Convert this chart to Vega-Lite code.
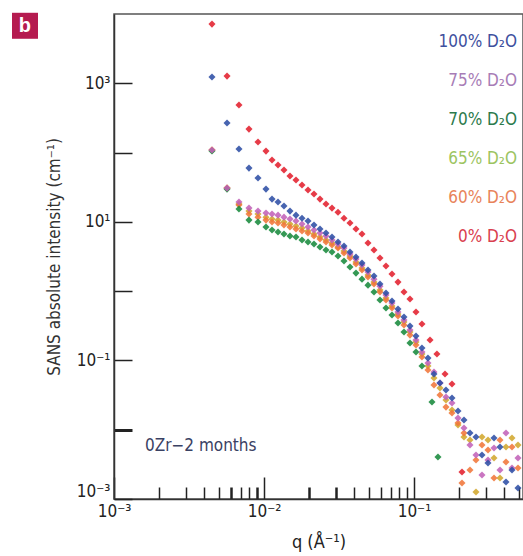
{
  "$schema": "https://vega.github.io/schema/vega-lite/v6.json",
  "autosize": "none",
  "width": 409,
  "height": 485,
  "padding": {"left": 114, "top": 14, "right": 0, "bottom": 57},
  "background": "white",
  "config": {
    "font": "Liberation Sans Narrow, Arial Narrow, DejaVu Sans Condensed, sans-serif",
    "view": {"stroke": "#555", "strokeWidth": 1.5}
  },
  "resolve": {"axis": {"x": "independent"}},
  "datasets": {
    "sans": [
      {"s":"65% D₂O","q":0.0045,"I":108.7},{"s":"65% D₂O","q":0.00567,"I":30.7},{"s":"65% D₂O","q":0.00681,"I":18.1},{"s":"65% D₂O","q":0.00794,"I":14.3},{"s":"65% D₂O","q":0.00912,"I":13.0},{"s":"65% D₂O","q":0.01031,"I":11.7},{"s":"65% D₂O","q":0.01131,"I":10.97},{"s":"65% D₂O","q":0.0124,"I":10.6},{"s":"65% D₂O","q":0.01359,"I":9.93},{"s":"65% D₂O","q":0.0149,"I":9.29},{"s":"65% D₂O","q":0.01634,"I":8.7},{"s":"65% D₂O","q":0.01792,"I":8.14},{"s":"65% D₂O","q":0.01965,"I":7.37},{"s":"65% D₂O","q":0.02154,"I":6.67},{"s":"65% D₂O","q":0.02362,"I":6.03},{"s":"65% D₂O","q":0.0259,"I":5.46},{"s":"65% D₂O","q":0.0284,"I":4.94},{"s":"65% D₂O","q":0.03114,"I":4.33},{"s":"65% D₂O","q":0.03415,"I":3.79},{"s":"65% D₂O","q":0.03744,"I":3.21},{"s":"65% D₂O","q":0.04105,"I":2.63},{"s":"65% D₂O","q":0.04501,"I":2.15},{"s":"65% D₂O","q":0.04935,"I":1.71},{"s":"65% D₂O","q":0.05411,"I":1.35},{"s":"65% D₂O","q":0.05933,"I":1.04},{"s":"65% D₂O","q":0.06505,"I":0.795},{"s":"65% D₂O","q":0.07133,"I":0.609},{"s":"65% D₂O","q":0.07821,"I":0.467},{"s":"65% D₂O","q":0.08576,"I":0.358},{"s":"65% D₂O","q":0.09403,"I":0.257},{"s":"65% D₂O","q":0.1031,"I":0.184},{"s":"65% D₂O","q":0.113,"I":0.124},{"s":"65% D₂O","q":0.1239,"I":0.083},{"s":"65% D₂O","q":0.1359,"I":0.0557},{"s":"65% D₂O","q":0.149,"I":0.04},{"s":"65% D₂O","q":0.1634,"I":0.0268},{"s":"65% D₂O","q":0.1792,"I":0.0192},{"s":"65% D₂O","q":0.1965,"I":0.0117},{"s":"65% D₂O","q":0.2154,"I":0.00784},{"s":"65% D₂O","q":0.2362,"I":0.0071},{"s":"65% D₂O","q":0.259,"I":0.00126},{"s":"65% D₂O","q":0.284,"I":0.00784},{"s":"65% D₂O","q":0.3114,"I":0.0071},{"s":"65% D₂O","q":0.3415,"I":0.0039},{"s":"65% D₂O","q":0.3744,"I":0.00201},{"s":"65% D₂O","q":0.4105,"I":0.00562},{"s":"65% D₂O","q":0.4501,"I":0.00759},{"s":"65% D₂O","q":0.4935,"I":0.00601},

      {"s":"60% D₂O","q":0.0045,"I":108.7},{"s":"60% D₂O","q":0.00567,"I":30.7},{"s":"60% D₂O","q":0.00681,"I":17.5},{"s":"60% D₂O","q":0.00794,"I":13.0},{"s":"60% D₂O","q":0.00912,"I":11.7},{"s":"60% D₂O","q":0.01031,"I":10.6},{"s":"60% D₂O","q":0.01131,"I":9.93},{"s":"60% D₂O","q":0.0124,"I":9.61},{"s":"60% D₂O","q":0.01359,"I":8.99},{"s":"60% D₂O","q":0.0149,"I":8.41},{"s":"60% D₂O","q":0.01634,"I":7.87},{"s":"60% D₂O","q":0.01792,"I":7.37},{"s":"60% D₂O","q":0.01965,"I":6.9},{"s":"60% D₂O","q":0.02154,"I":6.24},{"s":"60% D₂O","q":0.02362,"I":5.65},{"s":"60% D₂O","q":0.0259,"I":5.11},{"s":"60% D₂O","q":0.0284,"I":4.63},{"s":"60% D₂O","q":0.03114,"I":4.19},{"s":"60% D₂O","q":0.03415,"I":3.55},{"s":"60% D₂O","q":0.03744,"I":3.0},{"s":"60% D₂O","q":0.04105,"I":2.46},{"s":"60% D₂O","q":0.04501,"I":2.02},{"s":"60% D₂O","q":0.04935,"I":1.6},{"s":"60% D₂O","q":0.05411,"I":1.27},{"s":"60% D₂O","q":0.05933,"I":0.97},{"s":"60% D₂O","q":0.06505,"I":0.744},{"s":"60% D₂O","q":0.07133,"I":0.57},{"s":"60% D₂O","q":0.07821,"I":0.437},{"s":"60% D₂O","q":0.08576,"I":0.324},{"s":"60% D₂O","q":0.09403,"I":0.232},{"s":"60% D₂O","q":0.1031,"I":0.167},{"s":"60% D₂O","q":0.113,"I":0.112},{"s":"60% D₂O","q":0.1239,"I":0.0727},{"s":"60% D₂O","q":0.1359,"I":0.0441},{"s":"60% D₂O","q":0.149,"I":0.0317},{"s":"60% D₂O","q":0.1634,"I":0.0212},{"s":"60% D₂O","q":0.1792,"I":0.0174},{"s":"60% D₂O","q":0.1965,"I":0.0125},{"s":"60% D₂O","q":0.2089,"I":0.0017},{"s":"60% D₂O","q":0.2154,"I":0.00895},{"s":"60% D₂O","q":0.2362,"I":0.00262},{"s":"60% D₂O","q":0.259,"I":0.00365},{"s":"60% D₂O","q":0.284,"I":0.00601},{"s":"60% D₂O","q":0.3114,"I":0.00509},{"s":"60% D₂O","q":0.3415,"I":0.00201},{"s":"60% D₂O","q":0.3744,"I":0.0071},{"s":"60% D₂O","q":0.4105,"I":0.00342},{"s":"60% D₂O","q":0.4501,"I":0.00562},{"s":"60% D₂O","q":0.4935,"I":0.0028},

      {"s":"70% D₂O","q":0.0045,"I":105.1},{"s":"70% D₂O","q":0.00567,"I":29.7},{"s":"70% D₂O","q":0.00681,"I":15.3},{"s":"70% D₂O","q":0.00794,"I":10.6},{"s":"70% D₂O","q":0.00912,"I":9.93},{"s":"70% D₂O","q":0.01031,"I":8.41},{"s":"70% D₂O","q":0.01131,"I":7.62},{"s":"70% D₂O","q":0.0124,"I":7.13},{"s":"70% D₂O","q":0.01359,"I":6.67},{"s":"70% D₂O","q":0.0149,"I":6.24},{"s":"70% D₂O","q":0.01634,"I":6.03},{"s":"70% D₂O","q":0.01792,"I":5.46},{"s":"70% D₂O","q":0.01965,"I":5.11},{"s":"70% D₂O","q":0.02154,"I":4.78},{"s":"70% D₂O","q":0.02362,"I":4.33},{"s":"70% D₂O","q":0.0259,"I":3.92},{"s":"70% D₂O","q":0.0284,"I":3.67},{"s":"70% D₂O","q":0.03114,"I":3.21},{"s":"70% D₂O","q":0.03415,"I":2.72},{"s":"70% D₂O","q":0.03744,"I":2.23},{"s":"70% D₂O","q":0.04105,"I":1.82},{"s":"70% D₂O","q":0.04501,"I":1.49},{"s":"70% D₂O","q":0.04935,"I":1.22},{"s":"70% D₂O","q":0.05411,"I":0.97},{"s":"70% D₂O","q":0.05933,"I":0.744},{"s":"70% D₂O","q":0.06505,"I":0.57},{"s":"70% D₂O","q":0.07133,"I":0.452},{"s":"70% D₂O","q":0.07821,"I":0.346},{"s":"70% D₂O","q":0.08576,"I":0.257},{"s":"70% D₂O","q":0.09403,"I":0.178},{"s":"70% D₂O","q":0.1031,"I":0.132},{"s":"70% D₂O","q":0.113,"I":0.083},{"s":"70% D₂O","q":0.1318,"I":0.0251},{"s":"70% D₂O","q":0.1445,"I":0.00403},

      {"s":"75% D₂O","q":0.0045,"I":108.7},{"s":"75% D₂O","q":0.00567,"I":30.7},{"s":"75% D₂O","q":0.00681,"I":19.3},{"s":"75% D₂O","q":0.00794,"I":15.8},{"s":"75% D₂O","q":0.00912,"I":14.3},{"s":"75% D₂O","q":0.01031,"I":13.4},{"s":"75% D₂O","q":0.01131,"I":13.0},{"s":"75% D₂O","q":0.0124,"I":12.5},{"s":"75% D₂O","q":0.01359,"I":11.7},{"s":"75% D₂O","q":0.0149,"I":10.97},{"s":"75% D₂O","q":0.01634,"I":10.3},{"s":"75% D₂O","q":0.01792,"I":9.29},{"s":"75% D₂O","q":0.01965,"I":8.41},{"s":"75% D₂O","q":0.02154,"I":7.62},{"s":"75% D₂O","q":0.02362,"I":6.9},{"s":"75% D₂O","q":0.0259,"I":6.24},{"s":"75% D₂O","q":0.0284,"I":5.46},{"s":"75% D₂O","q":0.03114,"I":4.78},{"s":"75% D₂O","q":0.03415,"I":4.19},{"s":"75% D₂O","q":0.03744,"I":3.43},{"s":"75% D₂O","q":0.04105,"I":2.9},{"s":"75% D₂O","q":0.04501,"I":2.38},{"s":"75% D₂O","q":0.04935,"I":1.89},{"s":"75% D₂O","q":0.05411,"I":1.49},{"s":"75% D₂O","q":0.05933,"I":1.18},{"s":"75% D₂O","q":0.06505,"I":0.878},{"s":"75% D₂O","q":0.07133,"I":0.673},{"s":"75% D₂O","q":0.07821,"I":0.499},{"s":"75% D₂O","q":0.08576,"I":0.383},{"s":"75% D₂O","q":0.09403,"I":0.274},{"s":"75% D₂O","q":0.1031,"I":0.197},{"s":"75% D₂O","q":0.113,"I":0.132},{"s":"75% D₂O","q":0.1239,"I":0.0917},{"s":"75% D₂O","q":0.1359,"I":0.068},{"s":"75% D₂O","q":0.149,"I":0.0472},{"s":"75% D₂O","q":0.1634,"I":0.0296},{"s":"75% D₂O","q":0.1792,"I":0.0243},{"s":"75% D₂O","q":0.1965,"I":0.0147},{"s":"75% D₂O","q":0.2154,"I":0.0106},{"s":"75% D₂O","q":0.2362,"I":0.00601},{"s":"75% D₂O","q":0.259,"I":0.00431},{"s":"75% D₂O","q":0.284,"I":0.00222},{"s":"75% D₂O","q":0.3114,"I":0.00365},{"s":"75% D₂O","q":0.3415,"I":0.00544},{"s":"75% D₂O","q":0.3744,"I":0.00262},{"s":"75% D₂O","q":0.4105,"I":0.00895},{"s":"75% D₂O","q":0.4501,"I":0.0028},{"s":"75% D₂O","q":0.4935,"I":0.0039},

      {"s":"100% D₂O","q":0.0045,"I":1229},{"s":"100% D₂O","q":0.00567,"I":266.6},{"s":"100% D₂O","q":0.00681,"I":112.3},{"s":"100% D₂O","q":0.00794,"I":59.7},{"s":"100% D₂O","q":0.00912,"I":42.9},{"s":"100% D₂O","q":0.01031,"I":29.7},{"s":"100% D₂O","q":0.01131,"I":21.3},{"s":"100% D₂O","q":0.0124,"I":19.3},{"s":"100% D₂O","q":0.01359,"I":16.9},{"s":"100% D₂O","q":0.0149,"I":14.3},{"s":"100% D₂O","q":0.01634,"I":12.5},{"s":"100% D₂O","q":0.01792,"I":11.3},{"s":"100% D₂O","q":0.01965,"I":10.3},{"s":"100% D₂O","q":0.02154,"I":8.99},{"s":"100% D₂O","q":0.02362,"I":7.87},{"s":"100% D₂O","q":0.0259,"I":6.9},{"s":"100% D₂O","q":0.0284,"I":6.03},{"s":"100% D₂O","q":0.03114,"I":5.11},{"s":"100% D₂O","q":0.03415,"I":4.47},{"s":"100% D₂O","q":0.03744,"I":3.67},{"s":"100% D₂O","q":0.04105,"I":3.1},{"s":"100% D₂O","q":0.04501,"I":2.54},{"s":"100% D₂O","q":0.04935,"I":2.02},{"s":"100% D₂O","q":0.05411,"I":1.65},{"s":"100% D₂O","q":0.05933,"I":1.27},{"s":"100% D₂O","q":0.06505,"I":0.938},{"s":"100% D₂O","q":0.07133,"I":0.719},{"s":"100% D₂O","q":0.07821,"I":0.551},{"s":"100% D₂O","q":0.08576,"I":0.423},{"s":"100% D₂O","q":0.09403,"I":0.313},{"s":"100% D₂O","q":0.1031,"I":0.225},{"s":"100% D₂O","q":0.113,"I":0.151},{"s":"100% D₂O","q":0.1239,"I":0.108},{"s":"100% D₂O","q":0.1359,"I":0.0636},{"s":"100% D₂O","q":0.149,"I":0.0472},{"s":"100% D₂O","q":0.1634,"I":0.0374},{"s":"100% D₂O","q":0.1792,"I":0.0287},{"s":"100% D₂O","q":0.1965,"I":0.0186},{"s":"100% D₂O","q":0.2154,"I":0.0138},{"s":"100% D₂O","q":0.2362,"I":0.00895},{"s":"100% D₂O","q":0.259,"I":0.00784},{"s":"100% D₂O","q":0.284,"I":0.00431},{"s":"100% D₂O","q":0.3114,"I":0.0033},{"s":"100% D₂O","q":0.3415,"I":0.00759},{"s":"100% D₂O","q":0.3744,"I":0.00562},{"s":"100% D₂O","q":0.4105,"I":0.00176},{"s":"100% D₂O","q":0.4501,"I":0.00262},{"s":"100% D₂O","q":0.4935,"I":0.00144},

      {"s":"0% D₂O","q":0.0045,"I":7150},{"s":"0% D₂O","q":0.00567,"I":1270},{"s":"0% D₂O","q":0.00681,"I":485},{"s":"0% D₂O","q":0.00794,"I":218},{"s":"0% D₂O","q":0.00912,"I":142},{"s":"0% D₂O","q":0.01031,"I":105},{"s":"0% D₂O","q":0.01131,"I":77.9},{"s":"0% D₂O","q":0.0124,"I":66.0},{"s":"0% D₂O","q":0.01359,"I":55.9},{"s":"0% D₂O","q":0.0149,"I":45.8},{"s":"0% D₂O","q":0.01634,"I":40.1},{"s":"0% D₂O","q":0.01792,"I":34.0},{"s":"0% D₂O","q":0.01965,"I":28.8},{"s":"0% D₂O","q":0.02154,"I":25.2},{"s":"0% D₂O","q":0.02362,"I":21.3},{"s":"0% D₂O","q":0.0259,"I":18.1},{"s":"0% D₂O","q":0.0284,"I":15.8},{"s":"0% D₂O","q":0.03114,"I":13.8},{"s":"0% D₂O","q":0.03415,"I":11.3},{"s":"0% D₂O","q":0.03744,"I":9.61},{"s":"0% D₂O","q":0.04105,"I":7.87},{"s":"0% D₂O","q":0.04501,"I":6.67},{"s":"0% D₂O","q":0.04935,"I":4.94},{"s":"0% D₂O","q":0.05411,"I":3.92},{"s":"0% D₂O","q":0.05933,"I":3.0},{"s":"0% D₂O","q":0.06505,"I":2.3},{"s":"0% D₂O","q":0.07133,"I":1.77},{"s":"0% D₂O","q":0.07821,"I":1.35},{"s":"0% D₂O","q":0.08576,"I":0.97},{"s":"0% D₂O","q":0.09403,"I":0.769},{"s":"0% D₂O","q":0.1031,"I":0.499},{"s":"0% D₂O","q":0.113,"I":0.335},{"s":"0% D₂O","q":0.1279,"I":0.197},{"s":"0% D₂O","q":0.1422,"I":0.124},{"s":"0% D₂O","q":0.161,"I":0.0636},{"s":"0% D₂O","q":0.1792,"I":0.0456},{"s":"0% D₂O","q":0.2089,"I":0.00245}
    ]
  },
  "layer": [
    {
      "data": {"name": "sans"},
      "mark": {"type": "point", "shape": "diamond", "filled": true, "size": 50, "opacity": 0.88},
      "encoding": {
        "x": {
          "field": "q", "type": "quantitative",
          "scale": {"type": "log", "domain": [0.001, 0.533], "nice": false},
          "axis": {
            "orient": "bottom",
            "title": null, "labels": false, "domain": false, "grid": false,
            "values": [0.002,0.003,0.004,0.005,0.006,0.007,0.008,0.009,0.02,0.03,0.04,0.05,0.06,0.07,0.08,0.09,0.2,0.3,0.4,0.5],
            "tickSize": -12,
            "tickColor": "#222",
            "tickWidth": {"condition": {"test": "datum.value == 0.006 || datum.value == 0.009 || datum.value == 0.02 || datum.value == 0.03", "value": 2.5}, "value": 1.5}
          }
        },
        "y": {
          "field": "I", "type": "quantitative",
          "scale": {"type": "log", "domain": [0.001, 10000], "nice": false},
          "axis": {
            "title": "SANS absolute intensity (cm⁻¹)",
            "values": [0.001,0.01,0.1,1,10,100,1000],
            "labelExpr": "datum.value == 1000 ? '10³' : datum.value == 10 ? '10¹' : datum.value == 0.1 ? '10⁻¹' : datum.value == 0.001 ? '10⁻³' : ''",
            "labelOffset": {"condition": {"test": "datum.value == 0.001", "value": -8}, "value": 0},
            "tickSize": -18,
            "tickColor": "#222",
            "tickWidth": {"condition": {"test": "datum.value == 0.01", "value": 3}, "value": 1.5},
            "domainColor": "#333", "domainWidth": 1.5,
            "labelFontSize": 17, "labelColor": "#222", "labelPadding": 22,
            "labelOverlap": false, "labelFlush": false,
            "titleFontSize": 17, "titleFontWeight": "normal", "titleColor": "#333", "titlePadding": 13,
            "grid": false
          }
        },
        "color": {
          "field": "s", "type": "nominal",
          "scale": {
            "domain": ["100% D₂O", "75% D₂O", "70% D₂O", "65% D₂O", "60% D₂O", "0% D₂O"],
            "range": ["#2d4ea5", "#c262b8", "#188a3c", "#d2a72e", "#f0763a", "#e2202e"]
          },
          "legend": {
            "orient": "none", "legendX": 332, "legendY": 19,
            "title": null, "padding": 0,
            "symbolSize": 0, "symbolOpacity": 0, "symbolStrokeWidth": 0,
            "labelFontSize": 17, "labelLimit": 0, "rowPadding": 21,
            "encode": {
              "labels": {
                "update": {
                  "align": {"value": "right"},
                  "x": {"value": 71},
                  "fill": {"signal": "datum.value === '100% D₂O' ? '#3e509e' : datum.value === '75% D₂O' ? '#a77cb6' : datum.value === '70% D₂O' ? '#2c7a4c' : datum.value === '65% D₂O' ? '#9cc461' : datum.value === '60% D₂O' ? '#e8835a' : '#d9404f'"}
                }
              }
            }
          }
        }
      }
    },
    {
      "data": {"values": [{}]},
      "mark": {"type": "text", "text": "0Zr−2 months", "align": "left", "baseline": "middle", "fontSize": 17, "color": "#3a4163"},
      "encoding": {
        "x": {
          "datum": 0.00161, "type": "quantitative",
          "axis": {
            "orient": "bottom",
            "title": "q (Å⁻¹)",
            "values": [0.001, 0.01, 0.1],
            "labelExpr": "datum.value == 0.001 ? '10⁻³' : datum.value == 0.01 ? '10⁻²' : '10⁻¹'",
            "tickSize": -22,
            "tickColor": "#222", "tickWidth": 1.5,
            "domainColor": "#333", "domainWidth": 1.5,
            "labelFontSize": 17, "labelColor": "#222", "labelPadding": 26,
            "labelOverlap": false, "labelFlush": false,
            "titleFontSize": 18, "titleFontWeight": "normal", "titleColor": "#222", "titlePadding": 14,
            "grid": false
          }
        },
        "y": {"datum": 0.00582, "type": "quantitative"}
      }
    },
    {
      "data": {"values": [{}]},
      "mark": {"type": "point", "shape": "square", "filled": true, "size": 676, "opacity": 1, "color": "#b51b50", "clip": false},
      "encoding": {
        "x": {"datum": 0.000255, "type": "quantitative", "axis": null},
        "y": {"datum": 6760, "type": "quantitative"}
      }
    },
    {
      "data": {"values": [{}]},
      "mark": {"type": "text", "text": "b", "align": "center", "baseline": "middle", "fontSize": 20, "fontWeight": "bold", "color": "white", "font": "Liberation Sans, Arial, sans-serif"},
      "encoding": {
        "x": {"datum": 0.000255, "type": "quantitative", "axis": null},
        "y": {"datum": 6760, "type": "quantitative"}
      }
    }
  ]
}
